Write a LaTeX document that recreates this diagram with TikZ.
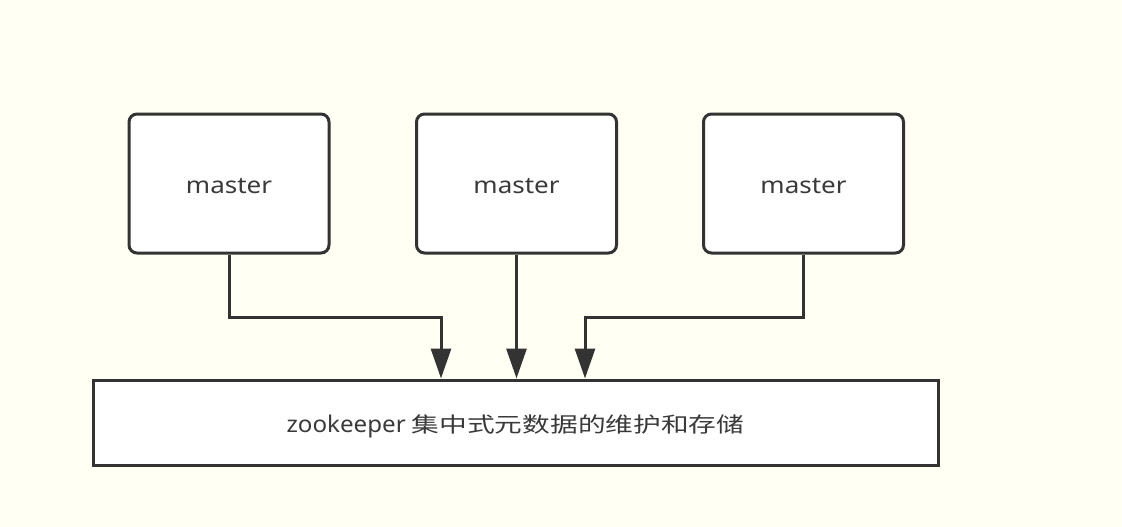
\documentclass[tikz,border=0pt]{standalone}
\usepackage{fontspec}
\setmainfont{Noto Sans}
\newfontfamily\cjk{Noto Sans CJK SC}
\usetikzlibrary{arrows.meta}
\definecolor{bgc}{HTML}{FFFFF4}
\definecolor{ln}{HTML}{333333}
\definecolor{tx}{HTML}{3A3A3A}
\begin{document}
\begin{tikzpicture}[x=1pt,y=-1pt,
  masterbox/.style={draw=ln,fill=white,line width=3pt,rounded corners=8pt,
    minimum width=200pt,minimum height=139pt,inner sep=0pt,
    text height=19pt,text depth=0pt,
    font=\fontsize{23}{26}\selectfont,text=tx},
  storebox/.style={draw=ln,fill=white,line width=3pt,
    minimum width=845pt,minimum height=85pt,inner sep=0pt,
    text height=19pt,text depth=0pt,
    font=\fontsize{23}{26}\selectfont,text=tx},
  arr/.style={draw=ln,line width=3pt,-{Triangle[width=20pt,length=30pt]}}]
\useasboundingbox[fill=bgc] (0,0) rectangle (1122,527);
\node[masterbox] (m1) at (229,183.5) {\scalebox{1.13}[1]{master}};
\node[masterbox] (m2) at (516.5,183.5) {\scalebox{1.13}[1]{master}};
\node[masterbox] (m3) at (803.5,183.5) {\scalebox{1.13}[1]{master}};
\node[storebox] (st) at (515.5,422.5) {\scalebox{1.05}[1]{zookeeper}\hspace{6pt}{\cjk\fontsize{21}{24}\selectfont\scalebox{1.32}[1]{集中式元数据的维护和存储}}};
\draw[arr] (m1.south) -- ++(0,63) -| ([xshift=-74.5pt]st.north);
\draw[arr] (m2.south) -- (m2.south |- st.north);
\draw[arr] (m3.south) -- ++(0,63) -| ([xshift=69.5pt]st.north);
\end{tikzpicture}
\end{document}
